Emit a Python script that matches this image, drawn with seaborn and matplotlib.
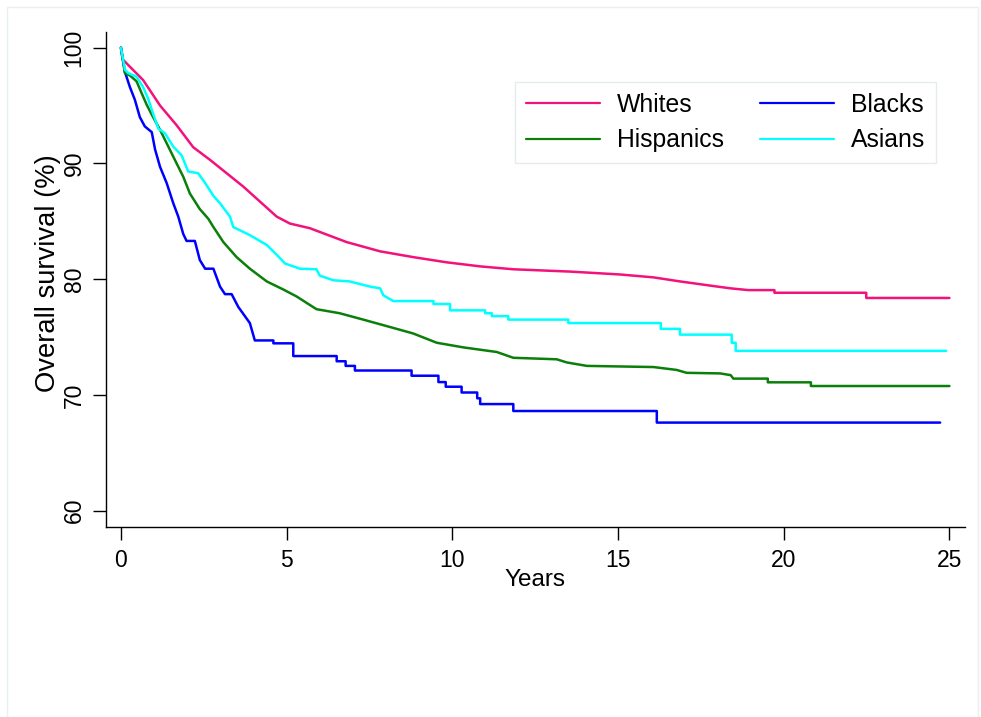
import matplotlib
matplotlib.use("Agg")
import matplotlib.pyplot as plt
import seaborn as sns
import pandas as pd
from matplotlib.patches import Rectangle

# ---------------- data ----------------
groups = ["Whites", "Blacks", "Hispanics", "Asians"]
legend_order = ["Whites", "Hispanics", "Blacks", "Asians"]
colors = {"Whites": "#f2127c", "Blacks": "#0000ff",
          "Hispanics": "#0a7f0a", "Asians": "#00ffff"}

whites_t = [0, 0.05, 0.22, 0.67, 1.18, 1.68, 2.18, 2.69, 3.69, 4.7, 5.1, 5.7,
            6.81, 7.82, 8.82, 9.83, 10.84, 11.84, 13.55, 15.06, 16.07, 16.87,
            17.88, 18.4, 18.93, 19.72, 19.72, 22.49, 22.49, 25.0]
whites_s = [100, 99.0, 98.5, 97.2, 95.0, 93.3, 91.4, 90.3, 88.0, 85.4, 84.8, 84.4,
            83.2, 82.4, 81.9, 81.45, 81.1, 80.85, 80.65, 80.4, 80.15, 79.8,
            79.4, 79.2, 79.05, 79.05, 78.82, 78.82, 78.37, 78.37]

blacks_t = [0, 0.12, 0.27, 0.42, 0.57, 0.72, 0.93, 1.03, 1.18, 1.38, 1.58, 1.73,
            1.88, 1.98, 2.23, 2.38, 2.54, 2.79, 2.99, 3.14, 3.34, 3.54, 3.69,
            3.89, 4.04, 4.6, 4.6, 5.2, 5.2, 6.51, 6.51, 6.78, 6.78, 7.06, 7.06,
            8.77, 8.77, 9.58, 9.58, 9.8, 9.8, 10.28, 10.28, 10.75, 10.75, 10.84,
            10.84, 11.84, 11.84, 16.17, 16.17, 24.72]
blacks_s = [100, 97.9, 96.6, 95.5, 94.0, 93.2, 92.7, 91.2, 89.7, 88.3, 86.55, 85.4,
            83.9, 83.3, 83.3, 81.65, 80.9, 80.9, 79.35, 78.7, 78.7, 77.6, 77.0,
            76.2, 74.7, 74.7, 74.45, 74.45, 73.35, 73.35, 72.9, 72.9, 72.5, 72.5, 72.1,
            72.1, 71.65, 71.65, 71.1, 71.1, 70.7, 70.7, 70.2, 70.2, 69.7, 69.7,
            69.2, 69.2, 68.6, 68.6, 67.6, 67.6]

hisp_t = [0, 0.12, 0.27, 0.47, 0.62, 0.78, 0.97, 1.18, 1.43, 1.68, 1.88, 2.08,
          2.38, 2.64, 2.79, 3.09, 3.49, 3.89, 4.4, 4.9, 5.3, 5.9, 6.6, 7.31,
          8.32, 8.82, 9.53, 10.33, 11.34, 11.84, 13.15, 13.45, 14.06, 16.07,
          16.77, 17.07, 18.08, 18.4, 18.48, 19.52, 19.52, 20.82, 20.82, 25.0]
hisp_s = [100, 97.8, 97.6, 97.1, 96.1, 95.05, 94.0, 92.9, 91.45, 90.0, 88.85, 87.4,
          86.05, 85.2, 84.5, 83.2, 81.9, 80.9, 79.8, 79.1, 78.5, 77.4, 77.05, 76.5,
          75.7, 75.3, 74.5, 74.1, 73.7, 73.2, 73.07, 72.8, 72.5, 72.4,
          72.15, 71.9, 71.85, 71.7, 71.4, 71.4, 71.08, 71.08, 70.76, 70.76]

asian_t = [0, 0.12, 0.22, 0.47, 0.67, 0.82, 0.97, 1.13, 1.33, 1.58, 1.83, 2.03,
           2.33, 2.54, 2.79, 2.99, 3.29, 3.39, 3.89, 4.4, 4.7, 4.95, 5.4, 5.9,
           6.0, 6.41, 6.9, 7.52, 7.82, 7.92, 8.22, 9.43, 9.43, 9.93, 9.93, 10.99,
           10.99, 11.19, 11.19, 11.69, 11.69, 13.5, 13.5, 16.29, 16.29, 16.87,
           16.87, 18.43, 18.43, 18.55, 18.55, 24.9]
asian_s = [100, 98.1, 97.8, 97.5, 96.6, 95.6, 94.3, 93.0, 92.6, 91.45, 90.7, 89.3,
           89.15, 88.3, 87.2, 86.55, 85.4, 84.5, 83.8, 82.95, 82.1, 81.35, 80.9, 80.85,
           80.3, 79.9, 79.8, 79.35, 79.2, 78.6, 78.1, 78.1, 77.85, 77.85, 77.3, 77.3,
           77.05, 77.05, 76.8, 76.8, 76.5, 76.5, 76.2, 76.2, 75.7, 75.7,
           75.2, 75.2, 74.5, 74.5, 73.8, 73.8]

x_ticks = [0, 5, 10, 15, 20, 25]
y_ticks = [60, 70, 80, 90, 100]
x_label = "Years"
y_label = "Overall survival (%)"

series = {"Whites": (whites_t, whites_s), "Blacks": (blacks_t, blacks_s),
          "Hispanics": (hisp_t, hisp_s), "Asians": (asian_t, asian_s)}

rows = []
for g in groups:
    ts, ss = series[g]
    for i, (t, s) in enumerate(zip(ts, ss)):
        rows.append({"group": g, "idx": i, "t": t, "s": s})
df = pd.DataFrame(rows)

# ---------------- plot ----------------
sns.set_style("ticks")
plt.rcParams["font.family"] = ["Liberation Sans", "DejaVu Sans"]
plt.rcParams["text.color"] = "black"
plt.rcParams["axes.labelcolor"] = "black"

W, H = 981, 717
fig = plt.figure(figsize=(W / 100, H / 100), dpi=100)
L, R, T, B = 105.7, 965.0, 32.3, 527.3
ax = fig.add_axes([L / W, 1 - B / H, (R - L) / W, (B - T) / H])

for g in groups:
    sns.lineplot(data=df[df["group"] == g], x="t", y="s", color=colors[g],
                 estimator=None, sort=False, linewidth=1.8, ax=ax, label=g,
                 legend=False)

ax.set_xlim(-0.46, 25.47)
ax.set_ylim(58.55, 101.33)
ax.set_xticks(x_ticks)
ax.set_yticks(y_ticks)
ax.set_yticklabels([str(v) for v in y_ticks], rotation=90, va="center")
ax.tick_params(axis="both", labelsize=16.5, length=9.5, width=1.0,
               color="black", labelcolor="black")
ax.tick_params(axis="y", pad=5)
ax.tick_params(axis="x", pad=6)

sns.despine(ax=ax)
for sp in ["left", "bottom"]:
    ax.spines[sp].set_linewidth(1.0)
    ax.spines[sp].set_color("black")

ax.set_xlabel(x_label, fontsize=17.5, va="center", color="black")
ax.set_ylabel(y_label, fontsize=19.7, va="center", color="black")
ax.xaxis.set_label_coords(0.499, -0.1065)
ax.yaxis.set_label_coords(-0.0671, 0.513)

handles = {l.get_label(): l for l in ax.get_lines()}
leg = ax.legend([handles[g] for g in legend_order], legend_order, ncol=2,
                loc="upper right", bbox_to_anchor=(0.9662, 0.8996),
                borderaxespad=0, fontsize=17.8, frameon=True, fancybox=False,
                edgecolor="#e6ecec", framealpha=1, handlelength=3.0,
                handletextpad=0.68, columnspacing=1.45, labelspacing=0.45,
                borderpad=0.45)
leg.get_frame().set_linewidth(1.0)
for lh in leg.get_lines():
    lh.set_linewidth(1.6)
for tx in leg.get_texts():
    tx.set_color("black")

# faint outer frame
fig.patches.append(Rectangle((7 / W, -0.01), (978 - 7) / W, 1 - 7 / H + 0.01,
                             transform=fig.transFigure, fill=False,
                             edgecolor="#eaf0f0", linewidth=1.0))

fig.savefig("out.png", dpi=100)
